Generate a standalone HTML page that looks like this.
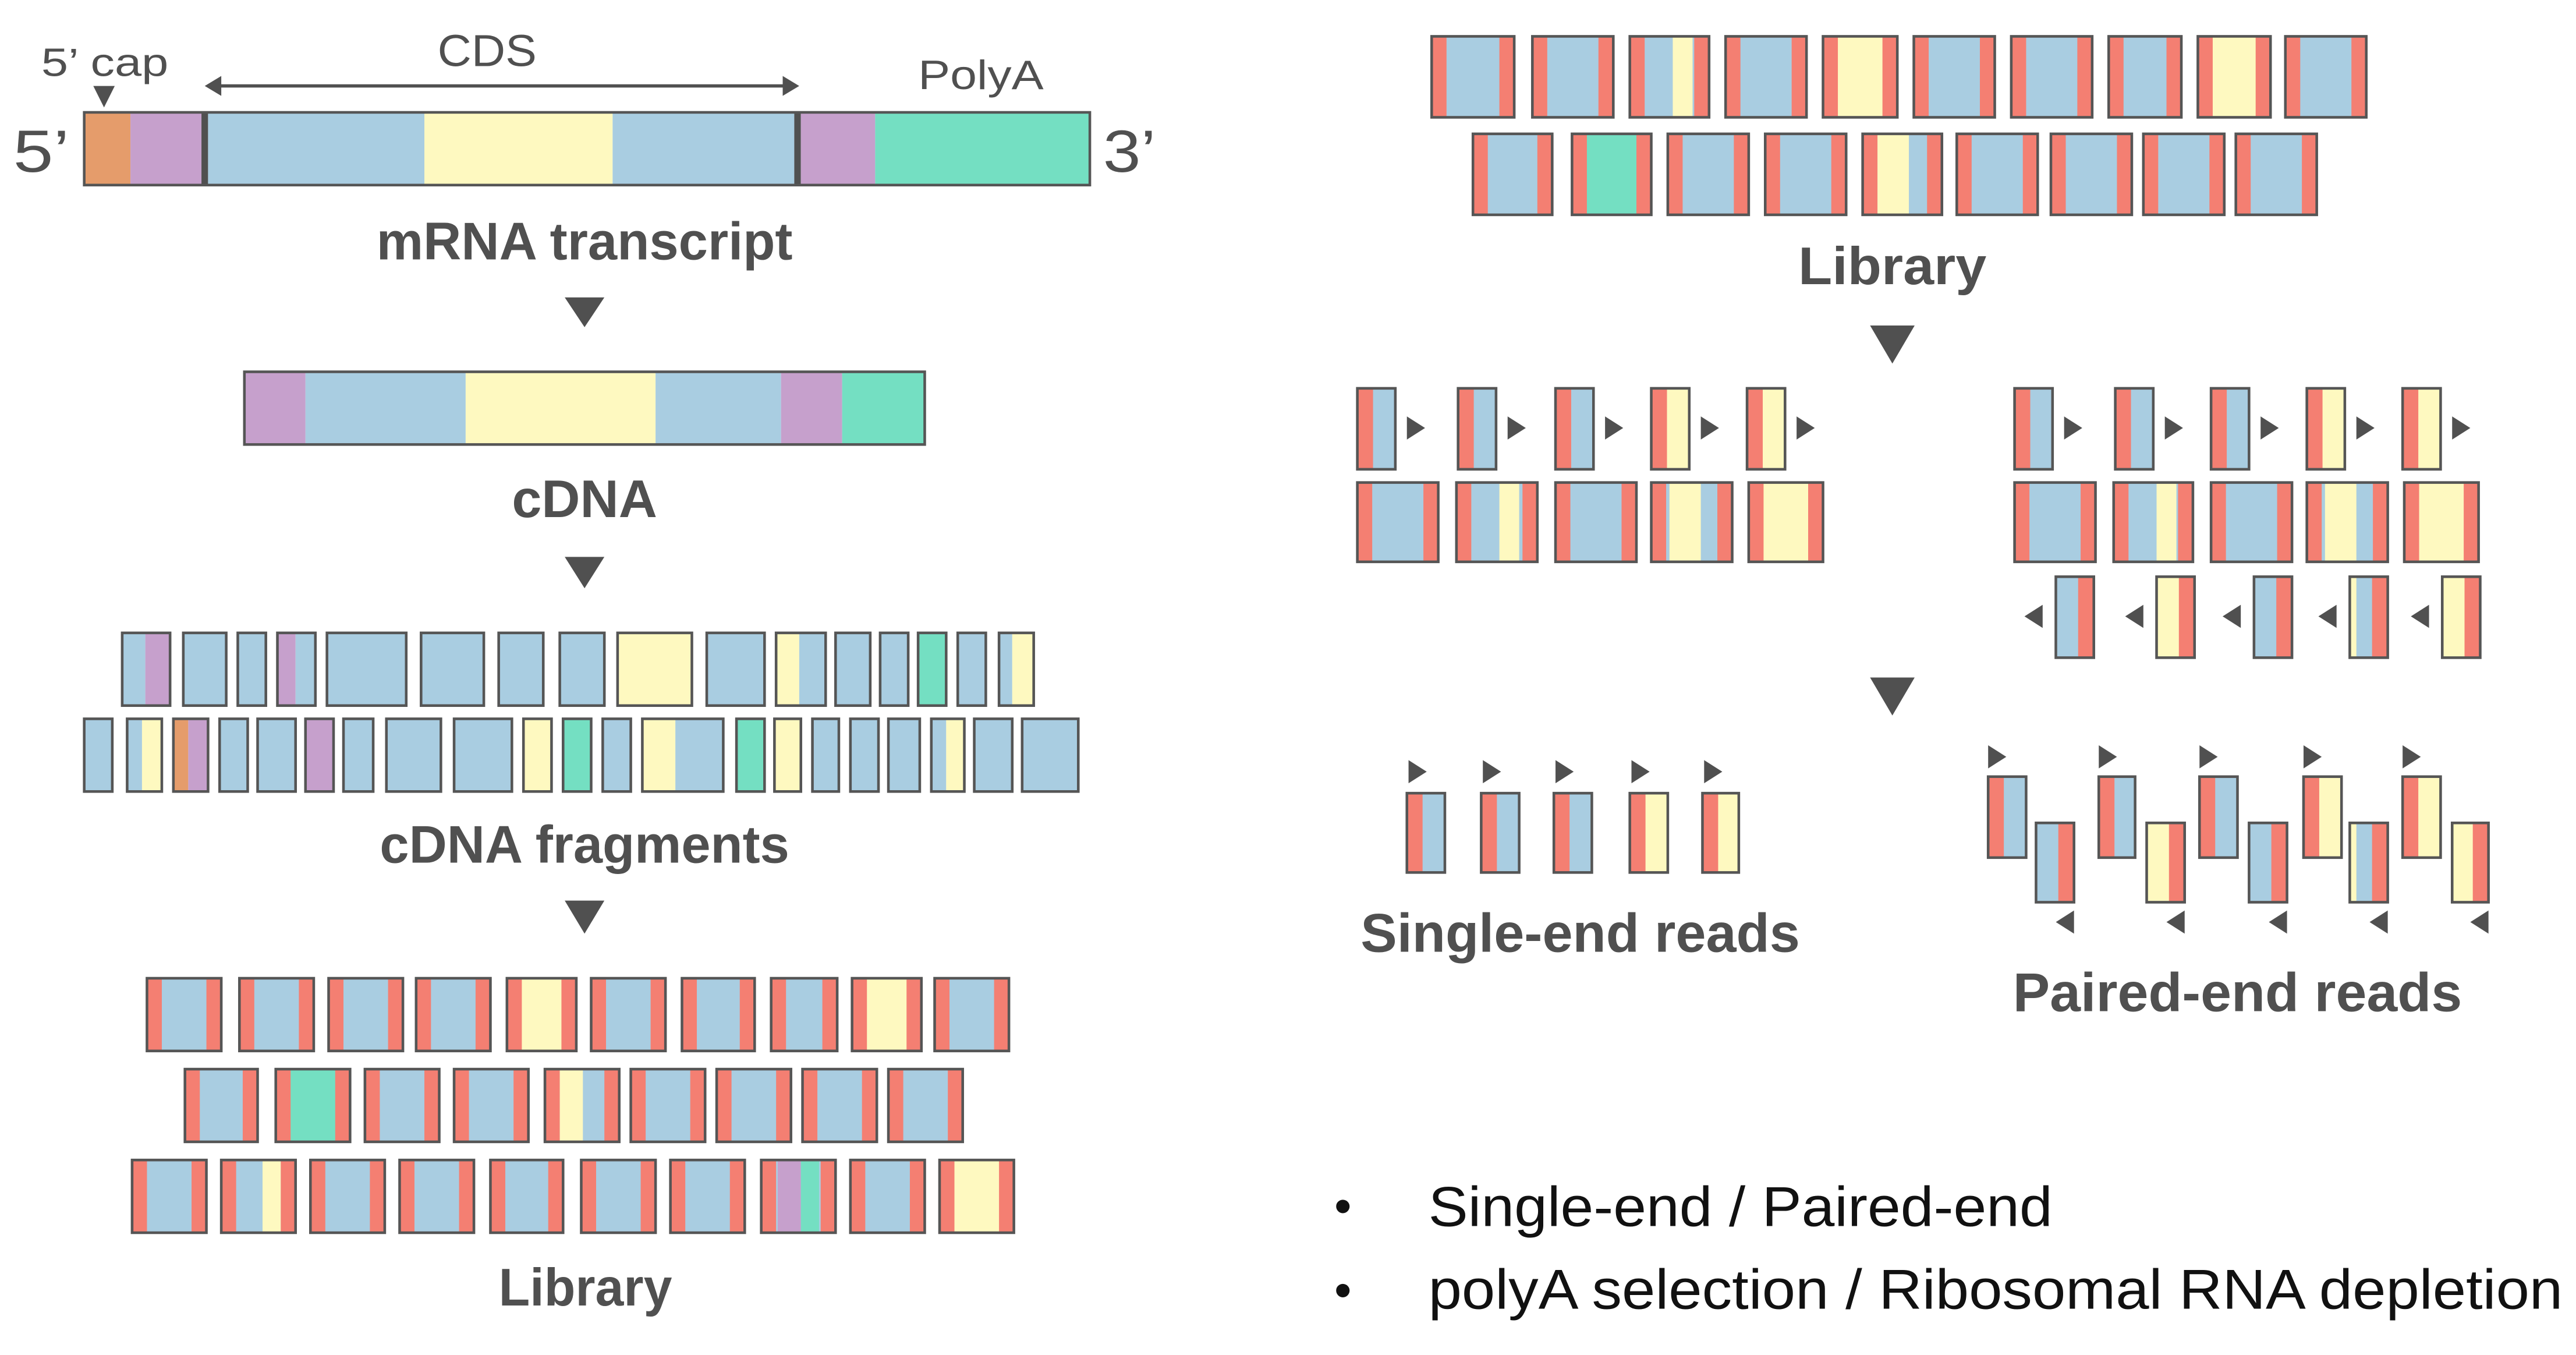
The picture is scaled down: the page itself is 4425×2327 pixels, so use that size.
<!DOCTYPE html>
<html><head><meta charset="utf-8"><style>
html,body{margin:0;padding:0;background:#fff;}
svg{display:block;}
text{font-family:"Liberation Sans",sans-serif;fill:#505050;}
</style></head><body>
<svg id="s" width="4425" height="2327" viewBox="0 0 1560 820" preserveAspectRatio="none" xmlns="http://www.w3.org/2000/svg">
<g id="g"></g>
<!-- labels -->
<text x="25" y="46" font-size="24" textLength="77" lengthAdjust="spacingAndGlyphs">5’ cap</text>
<text x="265" y="40" font-size="27" textLength="60" lengthAdjust="spacingAndGlyphs">CDS</text>
<text x="556" y="54" font-size="25" textLength="76" lengthAdjust="spacingAndGlyphs">PolyA</text>
<text x="8" y="104" font-size="36" textLength="34" lengthAdjust="spacingAndGlyphs">5’</text>
<text x="668" y="104" font-size="36" textLength="32" lengthAdjust="spacingAndGlyphs">3’</text>
<text x="228" y="157" font-size="32" font-weight="bold" textLength="252" lengthAdjust="spacingAndGlyphs">mRNA transcript</text>
<text x="310" y="313" font-size="32" font-weight="bold" textLength="88" lengthAdjust="spacingAndGlyphs">cDNA</text>
<text x="230" y="522" font-size="32" font-weight="bold" textLength="248" lengthAdjust="spacingAndGlyphs">cDNA fragments</text>
<text x="302" y="790" font-size="32" font-weight="bold" textLength="105" lengthAdjust="spacingAndGlyphs">Library</text>
<text x="1089" y="172" font-size="32" font-weight="bold" textLength="114" lengthAdjust="spacingAndGlyphs">Library</text>
<text x="824" y="576" font-size="33" font-weight="bold" textLength="266" lengthAdjust="spacingAndGlyphs">Single-end reads</text>
<text x="1219" y="612" font-size="33" font-weight="bold" textLength="272" lengthAdjust="spacingAndGlyphs">Paired-end reads</text>
<text x="808" y="740" font-size="30" fill="#111" style="fill:#111">•</text>
<text x="808" y="791" font-size="30" style="fill:#111">•</text>
<text x="865" y="742" font-size="34" style="fill:#111" textLength="378" lengthAdjust="spacingAndGlyphs">Single-end / Paired-end</text>
<text x="865" y="792" font-size="34" style="fill:#111" textLength="687" lengthAdjust="spacingAndGlyphs">polyA selection / Ribosomal RNA depletion</text>
</svg>
<script>
const R='#f47f72',B='#a9cde1',Y='#fef9c0',P='#c6a0cc',G='#74dfc2',O='#e59c6b',D='#505050';
let h='';
function rect(x,y,w,hh,f){h+=`<rect x="${x}" y="${y}" width="${w}" height="${hh}" fill="${f}"/>`;}
function box(x1,y1,x2,y2,segs){for(const s of segs)rect(s[1],y1,s[2]-s[1],y2-y1,s[0]);
 h+=`<rect x="${x1}" y="${y1}" width="${x2-x1}" height="${y2-y1}" fill="none" stroke="#555" stroke-width="1.6"/>`;}
function tri(pts){h+=`<polygon points="${pts}" fill="${D}"/>`;}
function down(cx,y1,y2,w){tri(`${cx-w/2},${y1} ${cx+w/2},${y1} ${cx},${y2}`);}
function right(x,cy,w,hh){tri(`${x},${cy-hh} ${x+w},${cy} ${x},${cy+hh}`);}
function left(x,cy,w,hh){tri(`${x+w},${cy-hh} ${x},${cy} ${x+w},${cy+hh}`);}
// mRNA
box(51,68,660,112,[[O,51,79],[P,79,122],[D,122,126],[B,126,257],[Y,257,371],[B,371,481],[D,481,485],[P,485,530],[G,530,660]]);
down(63,52,65,13);
h+=`<line x1="132" y1="52" x2="476" y2="52" stroke="${D}" stroke-width="2"/>`;
left(124,52,10,6);right(474,52,10,6);
down(354,180,198,24);
box(148,225,560,269,[[P,148,185],[B,185,282],[Y,282,397],[B,397,473],[P,473,510],[G,510,560]]);
down(354,337,356,24);
down(354,545,565,24);
// fragments
function fr(x1,x2,y1,y2,c1,sp,c2){box(x1,y1,x2,y2,sp?[[c1,x1,sp],[c2,sp,x2]]:[[c1,x1,x2]]);}
const r1=[[74,103,B,88,P],[111,137,B],[144,161,B],[168,191,P,179,B],[198,246,B],[255,293,B],[302,329,B],[339,366,B],[374,419,Y],[428,463,B],[470,500,Y,484,B],[506,527,B],[533,550,B],[556,573,G],[580,597,B],[605,626,B,613,Y]];
r1.forEach(a=>fr(a[0],a[1],383,427,a[2],a[3],a[4]));
const r2=[[51,68,B],[77,98,B,86,Y],[105,126,O,114,P],[133,150,B],[156,179,B],[185,202,P],[208,226,B],[234,267,B],[275,310,B],[317,334,Y],[341,358,G],[365,382,B],[389,438,Y,409,B],[446,463,G],[469,485,Y],[492,508,B],[515,532,B],[538,557,B],[564,584,B,573,Y],[590,613,B],[619,653,B]];
r2.forEach(a=>fr(a[0],a[1],435,479,a[2],a[3],a[4]));
// library boxes
function lib(x1,x2,y1,y2,inner,extra){const s=[[R,x1,x2],[inner||B,x1+9,x2-9]];if(extra)s.push(...extra);box(x1,y1,x2,y2,s);}
[[89,134],[145,190],[199,244],[252,297],[307,349,Y],[358,403],[413,457],[467,507],[516,558,Y],[566,611]].forEach(a=>lib(a[0],a[1],592,636,a[2]));
[[112,156],[167,212,G],[221,266],[275,320],[330,375,B,[[Y,339,353]]],[382,427],[434,479],[486,531],[538,583]].forEach(a=>lib(a[0],a[1],647,691,a[2],a[3]));
[[80,125],[134,179,B,[[Y,159,170]]],[188,233],[242,287],[297,341],[352,397],[406,451],[461,506,B,[[P,471,485],[G,485,496]]],[515,560],[569,614,Y]].forEach(a=>lib(a[0],a[1],702,746,a[2],a[3]));
// right library
[[867,917],[928,977],[987,1035,B,[[Y,1013,1025]]],[1045,1094],[1104,1149,Y],[1159,1208],[1218,1267],[1277,1321],[1331,1375,Y],[1384,1433]].forEach(a=>lib(a[0],a[1],22,71,a[2],a[3]));
[[892,940],[952,1000,G],[1010,1059],[1069,1118],[1128,1176,B,[[Y,1137,1156]]],[1185,1234],[1242,1291],[1298,1347],[1354,1403]].forEach(a=>lib(a[0],a[1],81,130,a[2],a[3]));
down(1146,197,220,27);
// single group
function rd(x1,x2,y1,y2,c,redRight){box(x1,y1,x2,y2,redRight?[[c,x1,x2],[R,x2-9.5,x2]]:[[c,x1,x2],[R,x1,x1+9.5]]);}
[[822,845,B],[883,906,B],[942,965,B],[1000,1023,Y],[1058,1081,Y]].forEach(a=>{rd(a[0],a[1],235,284,a[2]);right(a[1]+7,259,11,7);});
[[822,871],[882,931,B,[[Y,908,920]]],[942,991],[1000,1049,B,[[Y,1011,1030]]],[1059,1104,Y]].forEach(a=>lib(a[0],a[1],292,340,a[2],a[3]));
// paired group
[[1220,1243,B],[1281,1304,B],[1339,1362,B],[1397,1420,Y],[1455,1478,Y]].forEach(a=>{rd(a[0],a[1],235,284,a[2]);right(a[1]+7,259,11,7);});
[[1220,1269],[1280,1328,B,[[Y,1306,1318]]],[1339,1388],[1397,1446,B,[[Y,1408,1427]]],[1456,1501,Y]].forEach(a=>lib(a[0],a[1],292,340,a[2],a[3]));
[[1245,1268,B],[1306,1329,Y],[1365,1388,B],[1423,1446,B,1],[1479,1502,Y]].forEach(a=>{
 if(a[3])box(a[0],349,a[1],398,[[B,a[0],a[1]],[Y,a[0],a[0]+4],[R,a[1]-9.5,a[1]]]);else rd(a[0],a[1],349,398,a[2],true);
 left(a[0]-19,373,11,7);});
down(1146,410,433,27);
// single reads
[[852,875,B],[897,920,B],[941,964,B],[987,1010,Y],[1031,1053,Y]].forEach(a=>{rd(a[0],a[1],480,528,a[2]);right(a[0]+1,467,11,7);});
// paired reads
[[1204,1227,B],[1271,1293,B],[1332,1355,B],[1395,1418,Y],[1455,1478,Y]].forEach(a=>{rd(a[0],a[1],470,519,a[2]);right(a[0],458,11,7);});
[[1233,1256,B],[1300,1323,Y],[1362,1385,B],[1423,1446,B,1],[1485,1507,Y]].forEach(a=>{
 if(a[3])box(a[0],498,a[1],546,[[B,a[0],a[1]],[Y,a[0],a[0]+4],[R,a[1]-9.5,a[1]]]);else rd(a[0],a[1],498,546,a[2],true);
 left(a[1]-11,558,11,7);});
document.getElementById('g').innerHTML=h;
</script>
</body></html>
